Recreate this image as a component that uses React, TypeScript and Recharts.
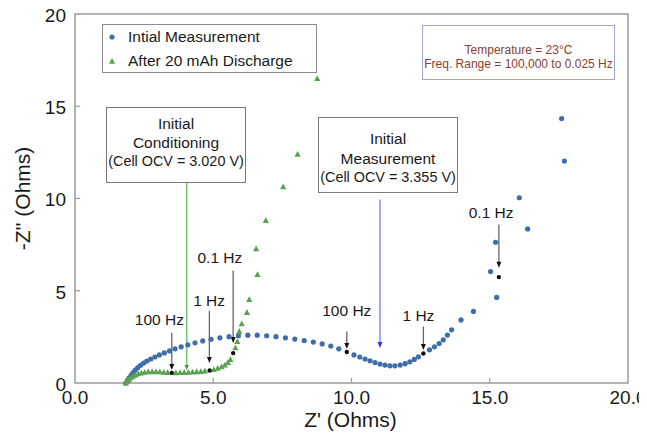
import React from 'react';
import {
  ScatterChart,
  Scatter,
  XAxis,
  YAxis,
  ReferenceLine,
  ReferenceArea,
  ReferenceDot,
  Legend,
} from 'recharts';

const FONT = '"Liberation Sans", Arial, Helvetica, sans-serif';

// ---- data ----
const initialX = [
  1.84, 1.9, 1.96, 2.03, 2.1, 2.18, 2.27, 2.37, 2.48, 2.6, 2.74, 2.89, 3.05, 3.23, 3.42, 3.62, 3.84, 4.08,
  4.34, 4.62, 4.92, 5.24, 5.57, 5.91, 6.25, 6.59, 6.93, 7.27, 7.61, 7.95, 8.29, 8.62, 8.94, 9.25, 9.54,
  10.09, 10.3, 10.49, 10.67, 10.85, 11.03, 11.21, 11.39, 11.57, 11.76, 11.94, 12.11, 12.27, 12.42,
  12.82, 13.0, 13.17, 13.32, 13.47, 13.62, 13.96, 14.41, 15.25, 15.03, 15.21, 16.37, 16.07, 17.7, 17.6,
];
const initialY = [
  0.0, 0.14, 0.28, 0.42, 0.57, 0.7, 0.83, 0.96, 1.08, 1.19, 1.3, 1.41, 1.52, 1.63, 1.74, 1.85, 1.96, 2.07,
  2.18, 2.28, 2.37, 2.45, 2.51, 2.56, 2.59, 2.59, 2.56, 2.51, 2.45, 2.38, 2.3, 2.22, 2.12, 2.0, 1.85,
  1.52, 1.41, 1.3, 1.2, 1.11, 1.03, 0.97, 0.93, 0.93, 0.97, 1.05, 1.15, 1.28, 1.42,
  1.8, 1.96, 2.14, 2.34, 2.6, 2.88, 3.42, 3.88, 4.64, 6.04, 7.63, 8.35, 10.04, 12.03, 14.33,
];

const dischargeX = [
  1.84, 1.89, 1.95, 2.02, 2.1, 2.19, 2.29, 2.4, 2.52, 2.65, 2.79, 2.93, 3.07, 3.21, 3.35, 3.65, 3.8, 3.95,
  4.1, 4.25, 4.4, 4.55, 4.7, 5.02, 5.16, 5.3, 5.42, 5.53, 5.62, 5.8, 5.87, 5.94, 6.03, 6.22, 6.3, 6.6,
  6.55, 6.9, 7.53, 8.05, 8.76,
];
const dischargeY = [
  0.0, 0.1, 0.19, 0.28, 0.36, 0.43, 0.49, 0.54, 0.58, 0.6, 0.61, 0.61, 0.6, 0.58, 0.57, 0.55, 0.56, 0.57,
  0.58, 0.59, 0.61, 0.62, 0.64, 0.73, 0.79, 0.87, 0.97, 1.1, 1.27, 1.9, 2.24, 2.79, 3.2, 3.82, 4.52, 5.87,
  7.27, 8.8, 10.63, 12.39, 16.5,
];

// frequency markers (black points)
const markerX = [3.5, 4.87, 5.72, 9.83, 12.6, 15.33];
const markerY = [0.55, 0.68, 1.62, 1.68, 1.6, 5.74];

// frequency arrows
const freqLabels = ['100 Hz', '1 Hz', '0.1 Hz', '100 Hz', '1 Hz', '0.1 Hz'];
const freqArrowX = [3.5, 4.86, 5.72, 9.83, 12.6, 15.33];
const freqArrowTop = [2.72, 3.91, 6.1, 2.79, 3.06, 8.59];
const freqArrowTip = [0.71, 1.09, 2.17, 1.85, 1.79, 6.25];
const freqLabelX = [3.05, 4.85, 5.24, 9.83, 12.42, 15.05];
const freqLabelY = [3.46, 4.47, 6.83, 3.91, 3.66, 9.22];

// state arrows (from the annotation boxes)
const stateArrowX = [4.04, 11.03];
const stateArrowTop = [10.85, 9.95];
const stateArrowTip = [0.7, 1.9];

const xTicks = [0, 5, 10, 15, 20];
const yTicks = [0, 5, 10, 15, 20];

const BLUE = '#3d6ea8';
const GREEN = '#59a251';
const AXIS = '#9a9a9a';

const initialData = initialX.map((x, i) => ({ x, y: initialY[i] }));
const dischargeData = dischargeX.map((x, i) => ({ x, y: dischargeY[i] }));
const markerData = markerX.map((x, i) => ({ x, y: markerY[i] }));

const Dot = (p: any) => <circle cx={p.cx} cy={p.cy} r={2.6} fill={BLUE} />;
const Tri = (p: any) => (
  <polygon
    points={`${p.cx},${p.cy - 3.4} ${p.cx - 3.1},${p.cy + 2.4} ${p.cx + 3.1},${p.cy + 2.4}`}
    fill={GREEN}
  />
);
const BlackDot = (p: any) => <circle cx={p.cx} cy={p.cy} r={2.2} fill="#111" />;

const XTick = (props: any) => {
  const { x, y, payload } = props;
  const v = payload.value as number;
  const inner = v > 0 && v < 20;
  return (
    <g>
      {inner && <line x1={x} y1={y} x2={x} y2={y - 5} stroke={AXIS} strokeWidth={1.2} />}
      <text x={x} y={y + 21} textAnchor="middle" fontSize={19} fill="#1a1a1a" fontFamily={FONT}>
        {v.toFixed(1)}
      </text>
    </g>
  );
};

const YTick = (props: any) => {
  const { x, y, payload } = props;
  const v = payload.value as number;
  const inner = v > 0 && v < 20;
  return (
    <g>
      {inner && <line x1={x} y1={y} x2={x + 5} y2={y} stroke={AXIS} strokeWidth={1.2} />}
      <text x={x - 9} y={y + 1} dy="0.36em" textAnchor="end" fontSize={19} fill="#1a1a1a" fontFamily={FONT}>
        {v}
      </text>
    </g>
  );
};

const makeArrow = (lineColor: string, headColor: string, width: number, head: number) => (p: any) => {
  const { x1, y1, x2, y2 } = p;
  return (
    <g>
      <line x1={x1} y1={y1} x2={x2} y2={y2 - head} stroke={lineColor} strokeWidth={width} />
      <polygon
        points={`${x2},${y2} ${x2 - head * 0.55},${y2 - head * 1.3} ${x2 + head * 0.55},${y2 - head * 1.3}`}
        fill={headColor}
      />
    </g>
  );
};

const freqArrow = makeArrow('#666', '#111', 1.3, 4.5);
const greenArrow = makeArrow('#7cc47a', '#3f9a3f', 1.6, 4);
const blueArrow = makeArrow('#8f8ff2', '#3434e0', 1.6, 4.5);

const FreqText = (label: string) => (p: any) => (
  <text
    x={p.cx}
    y={p.cy}
    dy="0.36em"
    textAnchor="middle"
    fontSize={15.5}
    fill="#1a1a1a"
    fontFamily={FONT}
  >
    {label}
  </text>
);

const LegendContent = () => (
  <div
    style={{
      width: 215,
      height: 49,
      boxSizing: 'border-box',
      border: '1.5px solid #8c8c8c',
      background: '#fff',
      position: 'relative',
      fontFamily: FONT,
      fontSize: 15.5,
      color: '#1a1a1a',
    }}
  >
    <svg width={20} height={49} style={{ position: 'absolute', left: 0, top: 0 }}>
      <circle cx={9} cy={12} r={2.6} fill={BLUE} />
      <polygon points={`9,33 5.9,38.8 12.1,38.8`} fill={GREEN} />
    </svg>
    <div style={{ position: 'absolute', left: 25, top: 2, lineHeight: '20px', whiteSpace: 'nowrap' }}>
      Intial Measurement
    </div>
    <div style={{ position: 'absolute', left: 25, top: 26, lineHeight: '20px', whiteSpace: 'nowrap' }}>
      After 20 mAh Discharge
    </div>
  </div>
);

const boxBase: React.CSSProperties = {
  position: 'absolute',
  boxSizing: 'border-box',
  background: '#fff',
  fontFamily: FONT,
  color: '#1a1a1a',
  textAlign: 'center',
  whiteSpace: 'nowrap',
};

export default function App() {
  return (
    <div style={{ position: 'relative', width: 639, height: 429 }}>
      <ScatterChart width={639} height={429} margin={{ top: 6, right: 19, bottom: 0, left: 0 }}>
        <XAxis
          type="number"
          dataKey="x"
          domain={[0, 20]}
          ticks={xTicks}
          height={54}
          axisLine={false}
          tickLine={false}
          tickSize={0}
          tickMargin={0}
          tick={<XTick />}
          interval={0}
          label={{
            content: (p: any) => {
              const vb = p.viewBox || { x: 67, y: 375, width: 553, height: 54 };
              return (
                <text
                  x={vb.x + vb.width / 2 - 1}
                  y={vb.y + 44}
                  textAnchor="middle"
                  fontSize={21}
                  fill="#1a1a1a"
                  fontFamily={FONT}
                >
                  Z' (Ohms)
                </text>
              );
            },
          }}
        />
        <YAxis
          type="number"
          dataKey="y"
          domain={[0, 20]}
          ticks={yTicks}
          width={67}
          axisLine={false}
          tickLine={false}
          tickSize={0}
          tickMargin={0}
          tick={<YTick />}
          interval={0}
          label={{
            content: (p: any) => {
              const vb = p.viewBox || { x: 0, y: 6, width: 67, height: 369 };
              const cx = vb.x + 14;
              const cy = vb.y + vb.height / 2;
              return (
                <text
                  x={cx}
                  y={cy}
                  dy="0.36em"
                  textAnchor="middle"
                  fontSize={21}
                  fill="#1a1a1a"
                  fontFamily={FONT}
                  transform={`rotate(-90 ${cx} ${cy})`}
                >
                  -Z'' (Ohms)
                </text>
              );
            },
          }}
        />
        <ReferenceArea
          x1={0}
          x2={20}
          y1={0}
          y2={20}
          fill="none"
          fillOpacity={0}
          stroke={AXIS}
          strokeWidth={1.5}
          ifOverflow="visible"
        />
        <Legend
          layout="vertical"
          align="center"
          verticalAlign="middle"
          wrapperStyle={{ left: 94, top: 16, width: 215, height: 49 }}
          content={<LegendContent />}
        />
        {stateArrowX.map((x, i) => (
          <ReferenceLine
            key={`s${i}`}
            segment={[
              { x, y: stateArrowTop[i] },
              { x, y: stateArrowTip[i] },
            ]}
            ifOverflow="visible"
            shape={i === 0 ? greenArrow : blueArrow}
          />
        ))}
        <Scatter
          name="Intial Measurement"
          data={initialData}
          fill={BLUE}
          shape={Dot}
          isAnimationActive={false}
        />
        <Scatter
          name="After 20 mAh Discharge"
          data={dischargeData}
          fill={GREEN}
          shape={Tri}
          isAnimationActive={false}
        />
        <Scatter
          name="markers"
          data={markerData}
          fill="#111"
          shape={BlackDot}
          legendType="none"
          isAnimationActive={false}
        />
        {freqArrowX.map((x, i) => (
          <ReferenceLine
            key={`f${i}`}
            segment={[
              { x, y: freqArrowTop[i] },
              { x, y: freqArrowTip[i] },
            ]}
            ifOverflow="visible"
            shape={freqArrow}
          />
        ))}
        {freqLabels.map((label, i) => (
          <ReferenceDot
            key={`l${i}`}
            x={freqLabelX[i]}
            y={freqLabelY[i]}
            r={0}
            ifOverflow="visible"
            shape={FreqText(label)}
          />
        ))}
      </ScatterChart>

      <div
        style={{
          ...boxBase,
          left: 98,
          top: 99,
          width: 140,
          height: 76,
          border: '1.5px solid #7a7a7a',
          fontSize: 15.5,
          lineHeight: '19.3px',
          paddingTop: 5.5,
        }}
      >
        <div>Initial</div>
        <div>Conditioning</div>
        <div style={{ fontSize: 14.4 }}>(Cell OCV = 3.020 V)</div>
      </div>

      <div
        style={{
          ...boxBase,
          left: 310,
          top: 109,
          width: 140,
          height: 76,
          border: '1.5px solid #7a7a7a',
          fontSize: 15.5,
          lineHeight: '19.6px',
          paddingTop: 11,
        }}
      >
        <div>Initial</div>
        <div>Measurement</div>
        <div style={{ fontSize: 14.4 }}>(Cell OCV = 3.355 V)</div>
      </div>

      <div
        style={{
          ...boxBase,
          left: 414,
          top: 17,
          width: 193,
          height: 55,
          border: '1.5px solid #a4a4d8',
          fontSize: 12,
          lineHeight: '14px',
          paddingTop: 16.5,
          color: '#8a4030',
        }}
      >
        <div>Temperature = 23°C</div>
        <div>Freq. Range = 100,000 to 0.025 Hz</div>
      </div>
    </div>
  );
}
